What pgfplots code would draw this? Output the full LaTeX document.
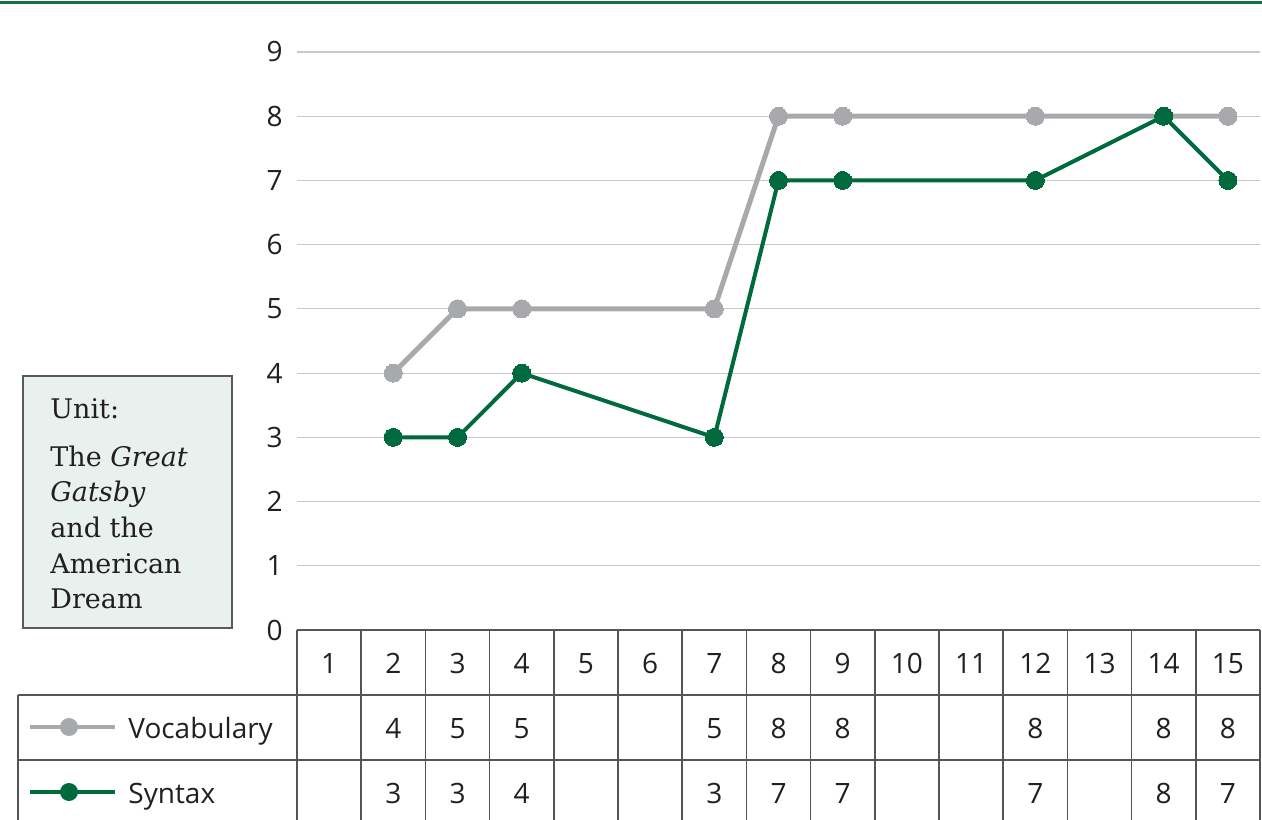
\documentclass[border=0pt]{standalone}
\usepackage{pgfplots}
\usepackage{pgfplotstable}
\pgfplotsset{compat=1.18}
\usepackage{fontspec}
\setmainfont{Open Sans}
\newfontfamily\boxfont{DejaVu Serif}
\definecolor{synt}{RGB}{0,105,62}
\definecolor{voc}{RGB}{167,169,172}
\definecolor{gridc}{RGB}{200,200,200}
\definecolor{tabc}{RGB}{85,85,85}
\definecolor{boxfill}{RGB}{233,241,238}
\definecolor{topg}{RGB}{20,110,70}
\definecolor{txt}{RGB}{35,31,32}

\pgfplotstableread{
x y
2 4
3 5
4 5
7 5
8 8
9 8
12 8
14 8
15 8
}\vocab
\pgfplotstableread{
x y
2 3
3 3
4 4
7 3
8 7
9 7
12 7
14 8
15 7
}\syntax

\begin{document}
\begin{tikzpicture}[font=\fontsize{14}{17}\selectfont, text=txt]
\path[use as bounding box] (0,0) rectangle (631pt,409.5pt);
\begin{axis}[at={(148.5pt,94.5pt)}, anchor=south west, scale only axis,
  width=481.5pt, height=289pt, xmin=0.5, xmax=15.5, ymin=0, ymax=9,
  ytick={0,...,9}, xtick=\empty, ymajorgrids,
  grid style={gridc, line width=0.6pt},
  axis line style={draw=none}, major tick style={draw=none},
  /pgf/number format/assume math mode=true,
  yticklabel style={font=\fontsize{14}{17}\selectfont, text=txt, inner sep=0pt, xshift=-7pt},
  clip=false]
\addplot[voc, line width=2.5pt, mark=*, mark size=4.5pt, mark options={fill=voc, draw=voc, line width=0pt}] table {\vocab};
\addplot[synt, line width=2pt, mark=*, mark size=4.5pt, mark options={fill=synt, draw=synt, line width=0pt}] table {\syntax};
\end{axis}
\begin{scope}[shift={(0,409.5pt)}, x=0.5pt, y=-0.5pt]
  \draw[topg, line width=1.5pt] (0,3) -- (1262,3);
  % unit box
  \draw[draw=gray!70!black, fill=boxfill, line width=0.6pt] (23,376) rectangle (232,628);
  \begin{scope}[every node/.style={anchor=base west, inner sep=0pt, font=\boxfont\fontsize{13.5}{16}\selectfont}]
    \node at (50,419) {Unit:};
    \node at (50,467) {The \textit{Great}};
    \node at (50,502) {\textit{Gatsby}};
    \node at (50,538) {and the};
    \node at (50,574) {American};
    \node at (50,609) {Dream};
  \end{scope}
  % data table
  \draw[tabc, line width=0.8pt] (297,630) -- (1260,630);
  \draw[tabc, line width=0.8pt] (18,695) -- (1260,695);
  \draw[tabc, line width=0.8pt] (18,760) -- (1260,760);
  \draw[tabc, line width=0.8pt] (18,695) -- (18,822);
  \foreach \k in {0,...,15} {
    \draw[tabc, line width=0.8pt] ({297+64.2*\k},630) -- ({297+64.2*\k},822);
  }
  \foreach \i in {1,...,15} {
    \node[anchor=base, inner sep=0pt] at ({297+64.2*(\i-0.5)},673) {\i};
  }
  \foreach \i/\v in {2/4,3/5,4/5,7/5,8/8,9/8,12/8,14/8,15/8} {
    \node[anchor=base, inner sep=0pt] at ({297+64.2*(\i-0.5)},738) {\v};
  }
  \foreach \i/\v in {2/3,3/3,4/4,7/3,8/7,9/7,12/7,14/8,15/7} {
    \node[anchor=base, inner sep=0pt] at ({297+64.2*(\i-0.5)},803) {\v};
  }
  % legend
  \draw[voc, line width=2pt] (30,727) -- (115,727);
  \fill[voc] (69,727) circle (4.5pt);
  \node[anchor=base west, inner sep=0pt] at (128,738) {Vocabulary};
  \draw[synt, line width=2pt] (30,792) -- (115,792);
  \fill[synt] (69,792) circle (4.5pt);
  \node[anchor=base west, inner sep=0pt] at (128,803) {Syntax};
\end{scope}
\end{tikzpicture}
\end{document}
